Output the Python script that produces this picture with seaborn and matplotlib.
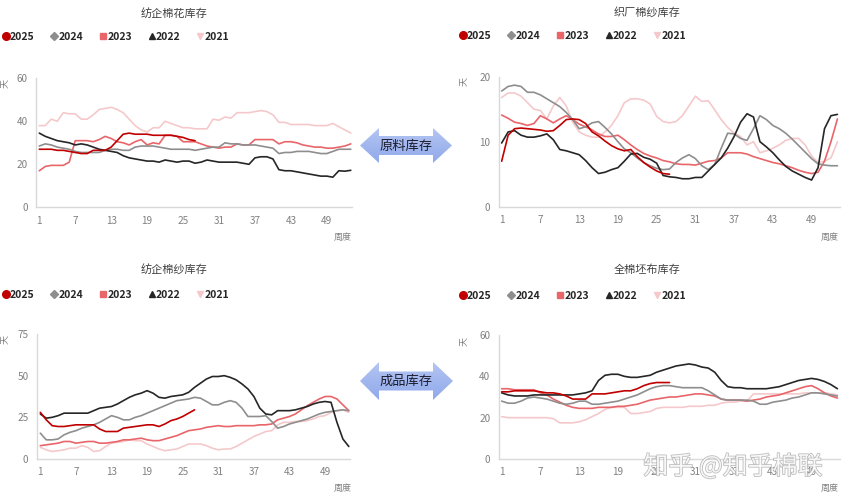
import numpy as np
import pandas as pd
import matplotlib
matplotlib.use("Agg")
import matplotlib.pyplot as plt
import seaborn as sns
from matplotlib.lines import Line2D
from matplotlib.patches import Polygon
from matplotlib.colors import LinearSegmentedColormap
import matplotlib.patheffects as pe

# ---------------- data ----------------
weeks = list(range(1, 54))
years = ["2025", "2024", "2023", "2022", "2021"]
xticks = [1, 7, 13, 19, 25, 31, 37, 43, 49]

# 纺企棉花库存 (天)
cotton_2025 = [27, 27, 27, 26.5, 26.5, 26, 25.5, 25, 25, 26.5,
               26.5, 26.5, 28, 31, 34, 34.5, 34, 34, 34, 33.5,
               33.5, 33.5, 33.5, 33, 32.5, 31.5, 31]
cotton_2024 = [28.5, 29.5, 29, 28, 27.5, 27, 26, 25.5, 25.5, 25.5,
               25.5, 26.5, 27, 27, 26.5, 26.5, 28, 28.5, 28.5, 28.5,
               28, 27.5, 27, 27, 27, 27, 26.5, 27, 27.5, 28,
               28, 30, 29.5, 29.5, 29, 29, 29, 28.5, 28, 27.5,
               25, 25.5, 25.5, 26, 26, 26, 25.5, 25, 25, 26,
               27, 27, 27]
cotton_2023 = [17, 19, 19.5, 19.5, 19.5, 21, 31, 31, 31, 30.5,
               31.5, 33, 32, 30.5, 30, 29, 30.5, 31.5, 29, 30,
               29.5, 33.5, 33.5, 33, 30.5, 30.5, 30.5, 29.5, 28.5, 28,
               27.5, 28, 28, 29.5, 29, 29, 31.5, 31.5, 31.5, 31.5,
               29.5, 30.5, 30.5, 30, 29, 28.5, 28, 28, 27.5, 27.5,
               28, 28.5, 29.5]
cotton_2022 = [34.5, 33, 32, 31, 30.5, 30, 29, 29.5, 29, 28,
               27, 26.5, 26, 25.5, 24, 23, 22.5, 22, 21.5, 21.5,
               21, 22, 21.5, 21, 21.5, 21.5, 20.5, 21, 22, 21.5,
               21, 21, 21, 21, 20.5, 20, 23, 23.5, 23.5, 22.5,
               17.5, 17, 17, 16.5, 16, 15.5, 15, 14.5, 14.5, 14,
               17, 16.8, 17.2]
cotton_2021 = [38, 38, 41, 40, 44, 43.5, 43.5, 41, 41, 43,
               45.5, 46, 46.5, 45.5, 44, 41, 38, 36, 35, 37,
               37, 40, 39, 38, 37, 37, 36.5, 36.5, 36.5, 41,
               40.5, 42, 41.5, 44, 44, 44, 44.5, 45, 44.5, 43,
               39.5, 39.5, 38.5, 38.5, 38.5, 38.5, 38, 38, 38, 39,
               37.5, 36, 34.5]

# 织厂棉纱库存 (天)
wyarn_2025 = [7.0, 11.0, 12.0, 12.1, 12.0, 11.9, 11.8, 11.6, 11.7, 12.5,
              13.4, 13.5, 13.4, 12.8, 11.5, 10.9, 10.1, 9.4, 8.9, 8.6,
              8.8, 7.7, 6.8, 6.1, 5.5, 5.1, 5.0]
wyarn_2024 = [17.8, 18.5, 18.7, 18.5, 17.6, 17.6, 17.2, 16.6, 16.0, 15.4,
              14.5, 13.4, 12.0, 12.3, 12.9, 13.1, 12.2, 11.2, 10.0, 8.9,
              8.3, 7.5, 6.8, 6.3, 5.9, 5.7, 5.8, 6.8, 7.5, 8.0,
              7.4, 6.3, 5.7, 6.5, 9.0, 11.3, 11.2, 10.5, 10.2, 12.0,
              14.0, 13.4, 12.5, 12.0, 11.3, 10.4, 9.4, 8.4, 7.4, 6.6,
              6.4, 6.3, 6.3]
wyarn_2023 = [14.1, 13.6, 13.0, 12.8, 12.5, 12.8, 14.0, 13.5, 12.9, 13.5,
              14.0, 13.4, 12.7, 12.3, 11.8, 11.2, 10.8, 10.8, 11.0, 10.3,
              9.5, 8.8, 8.2, 7.8, 7.5, 7.1, 6.9, 6.6, 6.5, 6.5,
              6.4, 6.7, 7.0, 7.1, 7.5, 8.3, 8.3, 8.3, 8.1, 7.7,
              7.4, 7.1, 6.8, 6.6, 6.3, 6.0, 5.6, 5.3, 5.1, 5.3,
              7.0, 10.0, 13.5]
wyarn_2022 = [9.8, 11.5, 11.7, 11.0, 10.7, 10.7, 10.9, 11.2, 10.3, 8.8,
              8.6, 8.3, 8.0, 7.1, 6.0, 5.1, 5.3, 5.7, 6.0, 7.0,
              8.1, 8.2, 7.6, 7.3, 6.7, 4.8, 4.6, 4.5, 4.3, 4.3,
              4.5, 4.5, 5.5, 6.5, 7.5, 9.0, 10.8, 13.0, 14.3, 13.8,
              10.0, 9.2, 8.3, 7.2, 6.2, 5.5, 5.0, 4.5, 4.1, 6.0,
              12.0, 14.0, 14.2]
wyarn_2021 = [16.8, 17.5, 17.5, 17.0, 16.0, 15.0, 14.8, 13.5, 15.5, 16.8,
              15.5, 13.0, 11.5, 11.0, 10.7, 10.7, 11.5, 12.5, 14.0, 16.0,
              16.6, 16.6, 16.4, 15.8, 13.9, 13.1, 12.9, 13.1, 14.0, 15.5,
              17.0, 16.2, 16.3, 14.9, 13.4, 12.2, 11.3, 10.8, 9.5, 10.0,
              8.3, 8.6, 9.0, 9.5, 10.2, 10.5, 10.5, 9.5, 7.8, 6.8,
              7.0, 7.5, 10.0]

# 纺企棉纱库存 (天)
syarn_2025 = [28, 23.5, 20, 19.5, 19.5, 20, 20.5, 20.5, 20.5, 20.5,
              18, 16.5, 16.5, 16.5, 18.5, 19, 19.5, 20, 20.5, 20.5,
              19.5, 21, 23, 24, 25.5, 27.5, 29.5]
syarn_2024 = [15.5, 11.5, 11.5, 12, 14.5, 16, 17, 18.5, 19.5, 20.5,
              22, 24, 26, 25, 23.5, 23.5, 25, 26, 27.5, 29,
              30.5, 32, 33.5, 35, 35.5, 36, 37, 36.5, 34.5, 32.5,
              32.5, 34, 35, 34, 30.5, 25.5, 25.5, 25.5, 26, 22.5,
              18.5, 19.5, 21, 22, 23, 24, 25.5, 27, 28, 28.5,
              29, 29.5, 29]
syarn_2023 = [8, 8.5, 9, 9.5, 10.5, 10.5, 9.5, 10, 10.5, 10.5,
              9.5, 9.5, 10, 10.5, 11.5, 11.5, 12, 12.5, 11.5, 11,
              11, 12, 13, 14, 15.5, 17, 17.5, 18, 19, 19.5,
              20, 19.5, 19.5, 20, 20, 20, 20, 20.5, 20.5, 21,
              23.5, 24.5, 25.5, 27, 29.5, 32, 34, 36, 37.5, 37.5,
              36, 32.5, 29]
syarn_2022 = [27, 24.5, 25, 26, 27.5, 27.5, 27.5, 27.5, 27.5, 29,
              30.5, 31, 31.5, 33, 35, 37, 38.5, 39.5, 41, 39.5,
              37, 36.5, 37.5, 38, 38.5, 40, 43, 45.5, 48, 49.5,
              49.5, 50, 49, 47.5, 45, 42, 37.5, 30.5, 27, 26.5,
              29, 29, 29, 29.5, 30.5, 31.5, 33, 34, 34.5, 34,
              22, 12, 7.5]
syarn_2021 = [7, 5.5, 4.5, 5, 5.5, 6.5, 6.5, 8, 7, 4.5,
              5, 7.5, 9.5, 10, 10.5, 11.5, 11, 11, 9, 7.5,
              6, 5, 5.5, 6, 7.5, 9, 9, 9, 8, 6.5,
              5.5, 6, 6, 7.5, 9.5, 11.5, 13.5, 15, 16.5, 17,
              20.5, 22, 22, 22.5, 22.5, 23, 24, 25.5, 26, 28,
              29, 29.5, 28]

# 全棉坯布库存 (天)
fabric_2025 = [32.5, 32.5, 33, 33, 33, 33, 32.5, 32, 32, 31.5,
               30.5, 29, 29, 29, 31.5, 31.5, 31.5, 32, 32.5, 33,
               33, 34, 35.5, 36.5, 37, 37, 37]
fabric_2024 = [28, 27, 27, 28, 29.5, 30, 29.5, 29, 28, 27,
               26.5, 27, 28, 28, 26.5, 26.5, 27, 27.5, 28, 29,
               30, 31, 32.5, 34, 35, 35.5, 35.5, 35, 34.5, 34.5,
               34.5, 34.5, 33, 31, 29, 28.5, 28.5, 28.5, 28.5, 28,
               26.5, 26.5, 27.5, 28, 28.5, 29.5, 30, 31, 32, 32,
               31.5, 31, 30.5]
fabric_2023 = [34, 34, 33.5, 33.5, 33.5, 33.5, 32, 31, 29, 27.5,
               26, 25, 24.5, 24.5, 24.5, 25, 25, 25, 25.5, 25.5,
               26, 26.5, 27.5, 28.5, 29, 29.5, 30, 30, 30.5, 31,
               31.5, 31.5, 31, 30.5, 29, 28.5, 28.5, 28.5, 28, 28.5,
               29, 30, 30.5, 31, 32, 33, 34, 35, 35.5, 34,
               32, 30.5, 29.5]
fabric_2022 = [32, 31, 30.5, 30.5, 30.5, 31, 31, 31, 31, 31,
               31, 31, 31.5, 32, 33, 38, 40.5, 41, 41, 40,
               39.5, 39.5, 40, 40.5, 42, 43, 44, 45, 45.5, 46,
               45.5, 44.5, 44, 42, 38, 35, 34.5, 34.5, 34, 34,
               34, 34, 34.5, 35, 36, 37, 38, 38.5, 39, 38.5,
               37.5, 36, 34]
fabric_2021 = [20.5, 20, 20, 20, 20, 20, 20, 20, 19.5, 17.5,
               17.5, 17.5, 18, 19, 20.5, 22, 24, 25, 25, 25,
               22, 22, 22.5, 23, 24.5, 25, 25, 25, 25, 25.5,
               25.5, 25.5, 26, 26, 27, 27.5, 27.5, 28, 28, 31.5,
               31.5, 31.5, 31.5, 31.5, 31.5, 31.5, 31.5, 32, 32, 32,
               32, 31.5, 31]

titles = ["纺企棉花库存", "织厂棉纱库存", "纺企棉纱库存", "全棉坯布库存"]
arrow_labels = ["原料库存", "成品库存"]

# ---------------- style ----------------
sns.set_theme(style="white")
plt.rcParams["font.family"] = ["Noto Sans CJK SC", "DejaVu Sans"]

colors = {"2025": "#C00000", "2024": "#8E8E8E", "2023": "#E8656A",
          "2022": "#262626", "2021": "#F5C9CB"}
markers = {"2025": "o", "2024": "D", "2023": "s", "2022": "^", "2021": "v"}
msizes = {"2025": 5.5, "2024": 4, "2023": 5, "2022": 5, "2021": 5}
draw_order = ["2021", "2023", "2024", "2022", "2025"]

W, H = 845, 500
fig = plt.figure(figsize=(W / 100, H / 100), dpi=100)
fig.patch.set_facecolor("white")


def make_df(series):
    rows = []
    for yr, vals in series.items():
        for w, v in zip(weeks, vals):
            rows.append((w, v, yr))
    return pd.DataFrame(rows, columns=["week", "value", "year"])


panels = [
    dict(series={"2025": cotton_2025, "2024": cotton_2024, "2023": cotton_2023,
                 "2022": cotton_2022, "2021": cotton_2021},
         rect=(36, 78.3, 352, 207.3), xlim=(0.45, 53.2), ylim=(0, 60),
         yticks=[0, 20, 40, 60], title_xy=(174, 13), legend_xy=(2, 37),
         ylab_xy=(5, 83), xlab_xy=(343, 237)),
    dict(series={"2025": wyarn_2025, "2024": wyarn_2024, "2023": wyarn_2023,
                 "2022": wyarn_2022, "2021": wyarn_2021},
         rect=(498.7, 76.7, 840, 206.7), xlim=(0.54, 53.4), ylim=(0, 20),
         yticks=[0, 10, 20], title_xy=(647, 12), legend_xy=(459, 36),
         ylab_xy=(464, 81), xlab_xy=(830, 237)),
    dict(series={"2025": syarn_2025, "2024": syarn_2024, "2023": syarn_2023,
                 "2022": syarn_2022, "2021": syarn_2021},
         rect=(36.7, 334, 350, 459), xlim=(0.39, 53.2), ylim=(0, 75),
         yticks=[0, 25, 50, 75], title_xy=(174, 269), legend_xy=(2, 295),
         ylab_xy=(5, 340), xlab_xy=(343, 488)),
    dict(series={"2025": fabric_2025, "2024": fabric_2024, "2023": fabric_2023,
                 "2022": fabric_2022, "2021": fabric_2021},
         rect=(498.7, 335, 840, 459), xlim=(0.54, 53.4), ylim=(0, 60),
         yticks=[0, 20, 40, 60], title_xy=(647, 270), legend_xy=(459, 296),
         ylab_xy=(464, 341), xlab_xy=(830, 488)),
]

for p, title in zip(panels, titles):
    l, t, r, b = p["rect"]
    ax = fig.add_axes([l / W, 1 - b / H, (r - l) / W, (b - t) / H])
    ax.set_facecolor("none")
    df = make_df(p["series"])
    for yr in draw_order:
        sub = df[df["year"] == yr]
        sns.lineplot(data=sub, x="week", y="value", ax=ax, color=colors[yr],
                     linewidth=1.2, legend=False)
    ax.set_xlim(*p["xlim"])
    ax.set_ylim(*p["ylim"])
    ax.set_xticks(xticks)
    ax.set_yticks(p["yticks"])
    ax.set_xlabel("")
    ax.set_ylabel("")
    for s in ["top", "right"]:
        ax.spines[s].set_visible(False)
    for s in ["left", "bottom"]:
        ax.spines[s].set_color("#D9D9D9")
        ax.spines[s].set_linewidth(1.0)
    ax.tick_params(axis="x", length=3, width=0.8, color="#D9D9D9",
                   labelsize=7.2, labelcolor="#808080", pad=3, direction="out")
    ax.tick_params(axis="y", length=0, labelsize=7.2, labelcolor="#808080", pad=6)
    ax.grid(False)

    fig.text(p["title_xy"][0] / W, 1 - p["title_xy"][1] / H, title,
             ha="center", va="center", fontsize=8, color="#404040")
    fig.text(p["ylab_xy"][0] / W, 1 - p["ylab_xy"][1] / H, "天",
             ha="center", va="center", fontsize=6.5, color="#808080", rotation=90)
    fig.text(p["xlab_xy"][0] / W, 1 - p["xlab_xy"][1] / H, "周度",
             ha="center", va="center", fontsize=6.5, color="#808080")

    handles = [Line2D([], [], linestyle="none", marker=markers[yr],
                      markersize=msizes[yr], color=colors[yr],
                      markeredgecolor=colors[yr]) for yr in years]
    fig.legend(handles, years, loc="center left",
               bbox_to_anchor=(p["legend_xy"][0] / W, 1 - p["legend_xy"][1] / H),
               ncol=5, frameon=False, handlelength=0.7,
               handletextpad=0.05, columnspacing=1.55, borderpad=0,
               borderaxespad=0, labelcolor="#262626",
               prop={"weight": "bold", "size": 7.5})

# ---------------- overlay: arrows + watermark ----------------
ov = fig.add_axes([0, 0, 1, 1])
ov.set_xlim(0, W)
ov.set_ylim(H, 0)
ov.axis("off")
ov.set_facecolor("none")

grad = np.linspace(0, 1, 100).reshape(-1, 1)
cmap = LinearSegmentedColormap.from_list("arr", ["#B4C5F2", "#90A9EB"])

arrow_specs = [
    dict(cy=145.5, head_top=128, head_bot=163, body_top=136, body_bot=155,
         x0=360, xb1=379, xb2=433, x1=452, label=arrow_labels[0]),
    dict(cy=381, head_top=362, head_bot=400, body_top=371.5, body_bot=390.5,
         x0=360, xb1=379, xb2=433, x1=453, label=arrow_labels[1]),
]
for a in arrow_specs:
    pts = [(a["x0"], a["cy"]), (a["xb1"], a["head_top"]), (a["xb1"], a["body_top"]),
           (a["xb2"], a["body_top"]), (a["xb2"], a["head_top"]), (a["x1"], a["cy"]),
           (a["xb2"], a["head_bot"]), (a["xb2"], a["body_bot"]), (a["xb1"], a["body_bot"]),
           (a["xb1"], a["head_bot"])]
    poly = Polygon(pts, closed=True, facecolor="none", edgecolor="none")
    ov.add_patch(poly)
    im = ov.imshow(grad, cmap=cmap, aspect="auto",
                   extent=(a["x0"], a["x1"], a["head_bot"], a["head_top"]),
                   zorder=2)
    im.set_clip_path(poly)
    ov.text((a["x0"] + a["x1"]) / 2, a["cy"] + 0.5, a["label"], ha="center",
            va="center", fontsize=9.5, color="#1C1C2E", zorder=3)

ov.set_xlim(0, W)
ov.set_ylim(H, 0)

ov.text(733, 467, "知乎 @知乎棉联", ha="center", va="center", fontsize=18,
        color="white", alpha=0.85, zorder=4,
        path_effects=[pe.withStroke(linewidth=1.1, foreground="#AFAFAF")])

fig.savefig("out.png", dpi=100, facecolor="white")
